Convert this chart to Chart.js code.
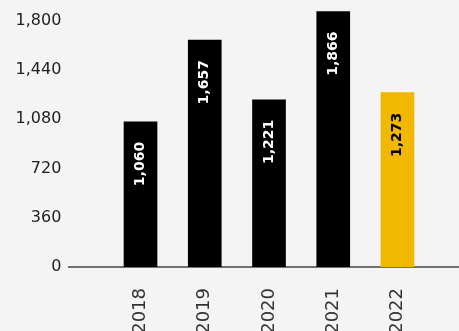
<!DOCTYPE html>
<html><head><meta charset="utf-8">
<script src="https://cdn.jsdelivr.net/npm/chart.js@4/dist/chart.umd.min.js"></script>
<style>
html,body{margin:0;padding:0;background:#f3f4f3;overflow:hidden;}
#wrap{width:459px;height:331px;position:relative;}
</style></head><body>
<div id="wrap"><canvas id="c" width="459" height="331"></canvas></div>
<script>
const categories = ["2018","2019","2020","2021","2022"];
const values = [1060, 1657, 1221, 1866, 1273];
const yTicks = [0, 360, 720, 1080, 1440, 1800];
const barColors = ["#000000","#000000","#000000","#000000","#f2b800"];
const labelColors = ["#ffffff","#ffffff","#ffffff","#ffffff","#000000"];

const baseline = {
  id:'baseline',
  beforeDatasetsDraw(chart){
    const ctx = chart.ctx, y = chart.scales.y.getPixelForValue(0);
    ctx.save(); ctx.strokeStyle = '#444'; ctx.lineWidth = 1.5;
    ctx.beginPath(); ctx.moveTo(68, y); ctx.lineTo(chart.width, y); ctx.stroke(); ctx.restore();
  }
};
const barLabels = {
  id:'barLabels',
  afterDatasetsDraw(chart){
    const ctx = chart.ctx; const meta = chart.getDatasetMeta(0);
    meta.data.forEach((bar, i) => {
      ctx.save();
      ctx.translate(bar.x, bar.y + 20);
      ctx.rotate(-Math.PI/2);
      ctx.font = 'bold 14px "DejaVu Sans"';
      ctx.fillStyle = labelColors[i];
      ctx.textAlign = 'right'; ctx.textBaseline = 'middle';
      ctx.fillText(values[i].toLocaleString('en-US'), 0, 0);
      ctx.restore();
    });
  }
};

new Chart(document.getElementById('c'), {
  type:'bar',
  data:{ labels: categories, datasets:[{ data: values, backgroundColor: barColors, barThickness: 33 }]},
  options:{
    responsive:false, animation:false,
    layout:{ autoPadding:false, padding:{ top:0, right:29.4, left:0, bottom:0 } },
    plugins:{ legend:{display:false}, tooltip:{enabled:false} },
    scales:{
      x:{
        grid:{display:false, drawTicks:false}, border:{display:false},
        ticks:{ maxRotation:90, minRotation:90, padding:21, color:'#333', font:{family:'"DejaVu Sans"', size:18} },
        afterFit(s){ s.height = 64; s.paddingLeft = 0; s.paddingRight = 0; }
      },
      y:{
        min:0, max:1950,
        grid:{display:false, drawTicks:false}, border:{display:false},
        afterBuildTicks(s){ s.ticks = yTicks.map(v => ({value:v})); },
        ticks:{ padding:47, color:'#222', font:{family:'"DejaVu Sans"', size:16},
          callback:(v)=> v.toLocaleString('en-US') },
        afterFit(s){ s.width = 108.4; s.paddingTop = 0; s.paddingBottom = 0; }
      }
    }
  },
  plugins:[baseline, barLabels]
});
</script></body></html>
